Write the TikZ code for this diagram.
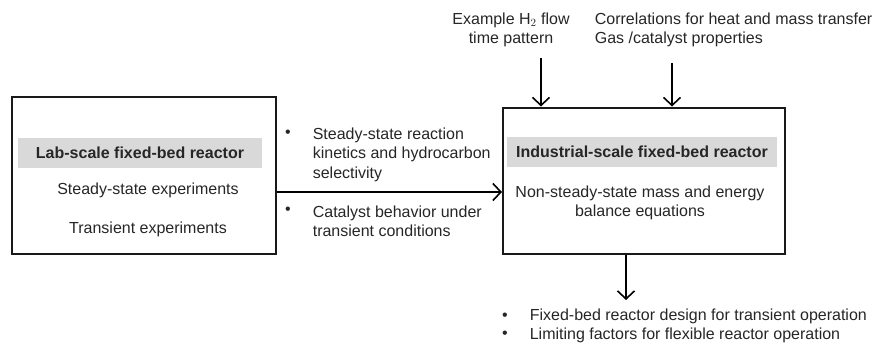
\documentclass[tikz,border=0pt]{standalone}
\usepackage{fontspec}
\setmainfont{Liberation Sans}
\usetikzlibrary{arrows.meta,positioning}

\begin{document}
\begin{tikzpicture}[x=1pt,y=-1pt,>={Straight Barb[length=8pt,width=17pt,line width=1.6pt]},line width=1.6pt,
every node/.style={font=\fontsize{16}{19.5}\selectfont, text=black!85, inner sep=0pt},
reactor/.style={draw=black!90, line width=2pt},
heading/.style={fill=gray!30, font=\fontsize{16}{19.5}\selectfont\bfseries},
item/.style={anchor=north west, align=left}]
\useasboundingbox (0,0) rectangle (876,345);
% boxes
\node (lab) [reactor, minimum width=264pt, minimum height=157pt] at (144,175.5) {};
\node (ind) [reactor, minimum width=282pt, minimum height=146pt] at (644,180.5) {};
\node (labhead) [heading, minimum width=244pt, minimum height=30pt] at (140,153) {Lab-scale fixed-bed reactor};
\node (indhead) [heading, minimum width=270pt, minimum height=30pt] at (642,152) {Industrial-scale fixed-bed reactor};
\node (steady) at (148,190) {Steady-state experiments};
\node (trans) at (148,229) {Transient experiments};
\node (balance) [align=center] at (640,203) {Non-steady-state mass and energy\\balance equations};
% texts round the arrows
\node (b1) at (288,134) {\textbullet};
\node (kin) [item] at (312,127) {Steady-state reaction\\kinetics and hydrocarbon\\selectivity};
\node (b2) at (288,211) {\textbullet};
\node (cat) [item] at (312,205) {Catalyst behavior under\\transient conditions};
\node (h2) [align=center] at (511,30) {Example H$_2$ flow\\time pattern};
\node (corr) [item] at (594,12) {Correlations for heat and mass transfer\\Gas /catalyst properties};
\node (b3) at (505,317) {\textbullet};
\node (b4) at (505,335) {\textbullet};
\node (design) [item] at (529,308) {Fixed-bed reactor design for transient operation\\Limiting factors for flexible reactor operation};
% arrow ends
\coordinate (h2tail) at (541,58);
\coordinate (corrtail) at (672,63);
\coordinate (flow) at (0,192);
\coordinate (out) at (626,300);
\draw [->] (lab.east |- flow) -- (ind.west |- flow);
\draw [->] (h2tail) -- (h2tail |- ind.north);
\draw [->] (corrtail) -- (corrtail |- ind.north);
\draw [->] (ind.south -| out) -- (out);
\end{tikzpicture}
\end{document}
